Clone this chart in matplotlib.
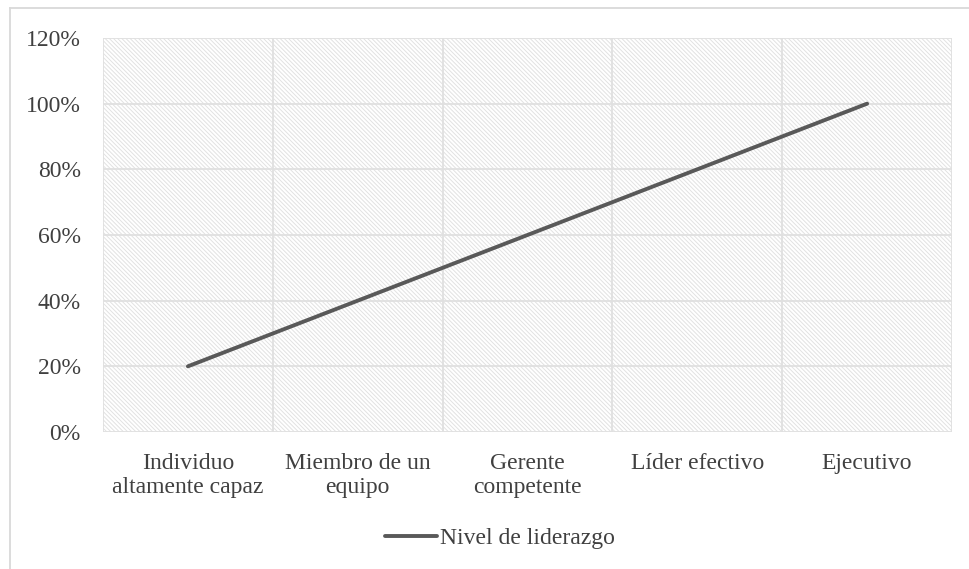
import numpy as np
import matplotlib
matplotlib.use("Agg")
from matplotlib import pyplot as plt
from matplotlib.patches import Rectangle
from matplotlib.lines import Line2D
from matplotlib.ticker import FuncFormatter

plt.rcParams.update({
    "font.family": ["Liberation Serif", "DejaVu Serif"],
    "font.size": 17,
    "text.color": "#404040",
    "xtick.color": "#404040",
    "ytick.color": "#404040",
    "hatch.linewidth": 0.7,
})

categories = ["Individuo\naltamente capaz", "Miembro de un\nequipo", "Gerente\ncompetente",
              "Líder efectivo", "Ejecutivo"]
nivel = [0.20, 0.40, 0.60, 0.80, 1.00]
series_name = "Nivel de liderazgo"
yticks = [0.0, 0.2, 0.4, 0.6, 0.8, 1.0, 1.2]

grid_col = "#e0e0e0"

fig = plt.figure(figsize=(9.69, 5.69), dpi=100)
ax = fig.add_axes([103 / 969, 1 - 432 / 569, (952 - 103) / 969, (432 - 38) / 569])

x = np.arange(len(categories))

# hatched plot area background
ax.add_patch(Rectangle((0, 0), 1, 1, transform=ax.transAxes, fill=False,
                       hatch="\\" * 8, edgecolor="#e2e2e2", linewidth=0, zorder=0))

for yv in yticks:
    ax.axhline(yv, color=grid_col, lw=1.3, zorder=1)
for xv in np.arange(-0.5, len(categories), 1.0):
    ax.axvline(xv, color=grid_col, lw=1.3, zorder=1)

ax.plot(x, nivel, color="#595959", lw=2.8, solid_capstyle="round", label=series_name, zorder=3)

ax.set_xlim(-0.5, len(categories) - 0.5)
ax.set_ylim(0, 1.2)
ax.set_yticks(yticks)
ax.yaxis.set_major_formatter(FuncFormatter(lambda v, p: f"{v * 100:.0f}%"))
ax.set_xticks(x, categories)
for lbl in ax.get_xticklabels():
    lbl.set_linespacing(1.2)
ax.tick_params(axis="both", length=0)
ax.tick_params(axis="y", pad=16)
ax.tick_params(axis="x", pad=15)
for s in ax.spines.values():
    s.set_visible(False)

# chart border (left and top edges visible)
fig.add_artist(Line2D([10 / 969, 10 / 969], [1 - 8 / 569, 0], color="#d9d9d9", lw=1.3))
fig.add_artist(Line2D([10 / 969, 1], [1 - 8 / 569, 1 - 8 / 569], color="#d9d9d9", lw=1.3))

fig.legend(loc="center", bbox_to_anchor=(0.516, 1 - 538 / 569), frameon=False,
           handlelength=2.2, handletextpad=0.1)

fig.savefig("out.png", dpi=100)
